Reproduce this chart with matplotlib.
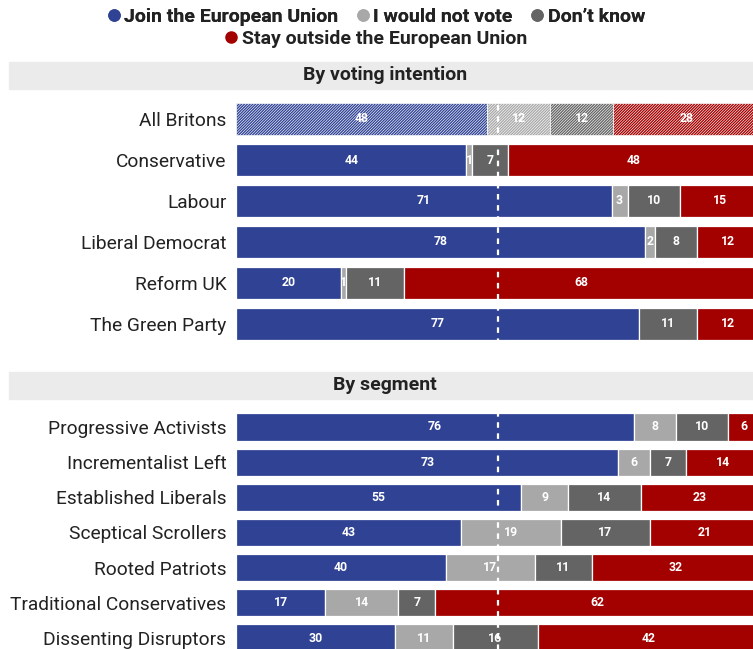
import numpy as np
import matplotlib.pyplot as plt
from matplotlib.lines import Line2D
from matplotlib.patches import Rectangle

##### data #####
series_names = ['Join the European Union', 'I would not vote', "Don\u2019t know",
                'Stay outside the European Union']
colors = ['#2f4294', '#a8a8a8', '#646464', '#a30000']

party_labels = ['All Britons', 'Conservative', 'Labour', 'Liberal Democrat',
                'Reform UK', 'The Green Party']
party_join = [48, 44, 71, 78, 20, 77]
party_novote = [12, 1, 3, 2, 1, 0]
party_dk = [12, 7, 10, 8, 11, 11]
party_stay = [28, 48, 15, 12, 68, 12]

segment_labels = ['Progressive Activists', 'Incrementalist Left', 'Established Liberals',
                  'Sceptical Scrollers', 'Rooted Patriots', 'Traditional Conservatives',
                  'Dissenting Disruptors']
segment_join = [76, 73, 55, 43, 40, 17, 30]
segment_novote = [8, 6, 9, 19, 17, 14, 11]
segment_dk = [10, 7, 14, 17, 11, 7, 16]
segment_stay = [6, 14, 23, 21, 32, 62, 42]

plt.rcParams['font.family'] = ['Roboto', 'DejaVu Sans']
plt.rcParams['hatch.linewidth'] = 0.45

W, H = 753, 649
fig = plt.figure(figsize=(W / 100, H / 100), dpi=100)


def fx(px):
    return px / W


def fy(py):
    return 1 - py / H


def draw_section(ax, labels, cols, bar_h, hatch_first=False):
    n = len(labels)
    y = np.arange(n)
    data = np.array(cols, dtype=float)
    # each row is shown as share of its own total
    shares = data / data.sum(axis=0) * 100
    left = np.zeros(n)
    for k in range(data.shape[0]):
        for i in range(n):
            if data[k, i] <= 0:
                continue
            hatched = hatch_first and i == 0
            ax.barh(y[i], shares[k, i], left=left[i], height=bar_h, color=colors[k],
                    edgecolor='white', linewidth=0.9 if not hatched else 0.5,
                    hatch='////////////' if hatched else None, zorder=2)
            ax.text(left[i] + shares[k, i] / 2, y[i], f'{int(data[k, i])}', ha='center',
                    va='center', color='white', fontsize=8.8, fontweight='bold', zorder=4)
        left += shares[k]
    ax.axvline(50, color='white', lw=1.6, ls=(0, (2.5, 2.5)), zorder=3)
    ax.set_xlim(0, 98.7)
    ax.set_ylim(n - 0.5, -0.5)
    ax.set_yticks(y)
    ax.set_yticklabels(labels, fontsize=13.8, color='#222222')
    ax.tick_params(axis='y', length=0, pad=7)
    ax.set_xticks([])
    for s in ax.spines.values():
        s.set_visible(False)
    ax.patch.set_alpha(0)


# section 1
top1, step1 = 98.5, 41.0
ax1 = fig.add_axes([fx(236), fy(top1 + step1 * 6), fx(W - 236), step1 * 6 / H])
draw_section(ax1, party_labels, [party_join, party_novote, party_dk, party_stay],
             0.76, hatch_first=True)

# section 2
top2, step2 = 409.4, 35.17
ax2 = fig.add_axes([fx(236), fy(top2 + step2 * 7), fx(W - 236), step2 * 7 / H])
draw_section(ax2, segment_labels, [segment_join, segment_novote, segment_dk, segment_stay],
             0.77)

# header bands
for title, y0, y1 in [('By voting intention', 62, 89), ('By segment', 372, 399)]:
    fig.add_artist(Rectangle((fx(9), fy(y1)), fx(W - 9), (y1 - y0) / H,
                             transform=fig.transFigure, color='#ebebeb', zorder=0))
    fig.text(fx(385), fy((y0 + y1) / 2), title, ha='center', va='center',
             fontsize=14, fontweight='bold', color='#222222')

# legend
handles = [Line2D([], [], marker='o', ls='', color=c, markersize=8) for c in colors]
leg_font = {'size': 14, 'weight': 'bold'}
leg1 = fig.legend(handles[:3], series_names[:3], ncol=3, loc='center',
                  bbox_to_anchor=(fx(375), fy(17)), frameon=False, handletextpad=0.1,
                  columnspacing=0.8, handlelength=0.9, prop=leg_font,
                  labelcolor='#222222')
fig.add_artist(leg1)
fig.legend(handles[3:], series_names[3:], ncol=1, loc='center',
           bbox_to_anchor=(fx(375), fy(39)), frameon=False, handletextpad=0.1,
           handlelength=0.9, prop=leg_font, labelcolor='#222222')

fig.savefig('out.png', dpi=100)
